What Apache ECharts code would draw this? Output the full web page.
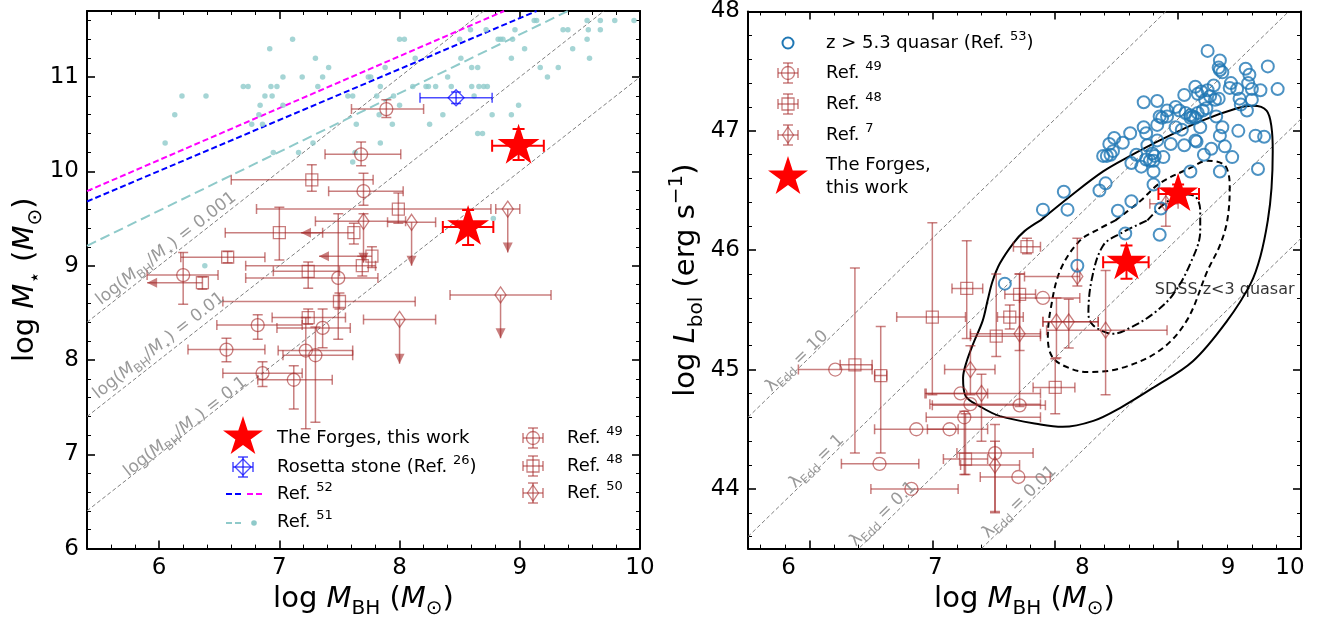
<!DOCTYPE html>
<html>
<head>
<meta charset="utf-8">
<script src="https://cdn.jsdelivr.net/npm/echarts@6/dist/echarts.min.js"></script>
<style>
  html, body { margin: 0; padding: 0; background: #fff; }
  #chart { width: 1338px; height: 624px; }
</style>
</head>
<body>
<div id="chart"></div>
<script>
// ---------------- data: left panel (log M_BH vs log M_star) ----------------
// error-bar rows: [x, y, xLo, xHi, yLo, yHi, limit]  limit: 0 none, 1 upper limit in x (arrow left), 2 upper limit in y (arrow down)
const ref49Mass = [
  [7.89, 10.66, 7.60, 8.20, 10.57, 10.76, 0],
  [7.68, 10.18, 7.38, 8.01, 10.06, 10.31, 0],
  [7.70, 9.79, 7.41, 8.03, 9.64, 9.98, 0],
  [6.20, 8.90, 5.90, 6.49, 8.59, 9.14, 0],
  [7.49, 8.87, 6.72, 7.82, 8.22, 9.55, 0],
  [6.82, 8.37, 6.48, 7.19, 8.22, 8.48, 0],
  [7.36, 8.34, 6.98, 7.59, 8.13, 8.54, 0],
  [6.56, 8.11, 6.24, 6.88, 7.98, 8.23, 0],
  [7.22, 8.10, 6.99, 7.61, 7.27, 8.45, 0],
  [7.30, 8.05, 7.03, 7.61, 7.34, 8.35, 0],
  [6.86, 7.86, 6.53, 7.19, 7.72, 7.98, 0],
  [7.12, 7.79, 6.82, 7.44, 7.48, 7.94, 0]
];
const ref48Mass = [
  [7.27, 9.91, 6.60, 7.78, 9.79, 10.07, 0],
  [7.99, 9.60, 6.81, 8.76, 9.45, 9.77, 0],
  [7.00, 9.35, 6.55, 7.36, 9.06, 9.62, 0],
  [7.62, 9.35, 7.18, 7.62, 9.23, 9.45, 1],
  [6.57, 9.09, 6.18, 6.88, 9.03, 9.15, 0],
  [6.36, 8.82, 5.90, 6.36, 8.75, 8.88, 1],
  [7.77, 9.10, 7.33, 7.77, 8.98, 9.20, 1],
  [7.69, 9.00, 6.72, 7.80, 8.89, 9.10, 0],
  [7.24, 8.94, 6.95, 7.50, 8.76, 9.04, 0],
  [7.50, 8.62, 6.53, 8.13, 8.54, 8.71, 0],
  [7.24, 8.45, 6.94, 7.55, 8.38, 8.54, 0]
];
const ref50Mass = [
  [7.70, 9.47, 7.30, 8.05, 9.03, 9.55, 2],
  [8.10, 9.46, 7.90, 8.30, 9.00, 9.46, 2],
  [8.90, 9.60, 8.80, 9.00, 9.14, 9.60, 2],
  [8.84, 8.69, 8.42, 9.26, 8.23, 8.69, 2],
  [8.00, 8.43, 7.70, 8.30, 7.96, 8.43, 2]
];
const rosettaMass = [[8.47, 10.78, 8.17, 8.77, 10.72, 10.84, 0]];
const forgesMass = [
  [8.99, 10.27, 8.77, 9.20, 10.12, 10.45, 0],
  [8.57, 9.41, 8.36, 8.78, 9.22, 9.59, 0]
];
// Ref. 51 local sample
const ref51Points = [
  [6.05,10.3],[6.13,10.6],[6.19,10.8],[6.39,10.8],[6.70,10.9],[6.74,10.9],[6.77,10.5],[6.83,10.6],
  [6.84,10.7],[6.86,10.5],[6.88,10.8],[6.92,11.3],[6.93,10.9],[6.94,10.8],[6.95,10.2],[6.98,10.9],
  [7.03,11.0],[7.03,10.7],[7.11,11.4],[7.16,10.2],[7.19,11.0],[7.28,10.3],[7.30,11.2],[7.32,10.9],
  [7.36,11.0],[7.41,11.1],[7.57,10.8],[7.61,10.8],[7.61,10.1],[7.63,10.2],[7.64,10.5],[7.74,11.0],
  [7.76,11.0],[7.81,10.8],[7.83,10.6],[7.84,10.3],[7.84,10.9],[7.88,11.1],[7.94,10.5],[7.95,10.8],
  [8.00,11.4],[8.04,11.4],[8.00,10.7],[8.11,10.9],[8.13,11.2],[8.22,10.9],[8.24,10.9],[8.25,10.5],
  [8.30,10.9],[8.36,10.6],[8.40,11.0],[8.43,10.9],[8.50,11.4],[8.51,11.2],[8.59,11.5],[8.60,11.1],
  [8.60,10.9],[8.62,10.8],[8.65,11.1],[8.65,10.4],[8.69,10.4],[8.66,10.9],[8.70,10.9],[8.73,10.9],
  [8.72,11.5],[8.77,10.6],[8.82,11.4],[8.84,11.4],[8.86,11.4],[8.93,10.6],[8.93,11.2],[8.94,11.4],
  [8.96,11.5],[8.99,10.7],[9.04,11.3],[9.12,11.6],[9.14,11.6],[9.17,11.1],[9.23,11.0],[9.32,11.1],
  [9.36,11.5],[9.40,11.5],[9.44,11.3],[9.56,11.6],[9.57,11.5],[9.56,11.4],[9.58,11.2],[9.67,11.6],
  [9.67,11.5],[9.79,11.6],[9.95,11.6],[8.78,9.5],[6.38,9.0]
];
const ref51Line = [[5.4, 9.21], [9.4, 11.7]];
const ref52LineMagenta = [[5.4, 9.79], [8.87, 11.7]];
const ref52LineBlue = [[5.4, 9.68], [9.14, 11.7]];
// constant mass-ratio lines log(M_BH/M_star)
const ratioLine001 = [[5.4, 8.4], [8.7, 11.7]];
const ratioLine01 = [[5.4, 7.4], [9.7, 11.7]];
const ratioLine1 = [[5.4, 6.4], [10.0, 11.0]];
const ratioLabels = [
  { value: [6.06, 9.18], text: '0.001' },
  { value: [6.00, 8.15], text: '0.01' },
  { value: [6.22, 7.29], text: '0.1' }
];

// ---------------- data: right panel (log M_BH vs log L_bol) ----------------
const ref49Lum = [
  [6.21, 45.00, 5.91, 6.51, 45.00, 45.00, 0],
  [7.23, 44.80, 6.95, 7.45, 44.80, 44.80, 0],
  [7.31, 44.71, 6.98, 7.88, 44.71, 44.71, 0],
  [7.71, 44.70, 7.00, 7.92, 44.70, 44.70, 0],
  [7.26, 44.60, 6.95, 7.88, 44.12, 44.65, 0],
  [6.87, 44.50, 6.53, 7.21, 44.50, 44.50, 0],
  [7.14, 44.50, 6.96, 7.45, 44.50, 44.50, 0],
  [7.51, 44.30, 7.20, 7.82, 43.81, 44.54, 0],
  [6.57, 44.21, 6.26, 6.89, 44.21, 44.21, 0],
  [7.70, 44.10, 7.39, 7.96, 44.10, 44.10, 0],
  [6.83, 44.00, 6.50, 7.21, 44.00, 44.00, 0],
  [7.90, 45.60, 7.71, 8.20, 45.60, 45.60, 0]
];
const ref48Lum = [
  [7.00, 45.44, 6.71, 7.27, 44.79, 46.23, 0],
  [7.28, 45.68, 7.16, 7.41, 45.26, 46.08, 0],
  [6.37, 45.04, 6.25, 6.51, 44.30, 45.85, 0],
  [6.58, 44.95, 6.53, 6.63, 44.30, 45.36, 0],
  [7.77, 46.03, 7.66, 7.88, 45.97, 46.10, 0],
  [7.71, 45.63, 7.59, 7.84, 45.16, 45.80, 0],
  [7.63, 45.44, 7.53, 7.74, 45.34, 45.54, 0],
  [7.52, 45.28, 7.31, 7.88, 45.11, 45.80, 0],
  [7.27, 44.25, 7.09, 7.45, 44.12, 44.63, 0],
  [8.00, 44.85, 7.82, 8.16, 44.63, 45.09, 0]
];
const ref7Lum = [
  [7.71, 45.30, 7.31, 7.88, 44.69, 45.80, 0],
  [7.31, 45.00, 7.10, 7.51, 44.79, 45.20, 0],
  [7.40, 44.80, 6.94, 7.88, 44.40, 44.96, 0],
  [7.51, 44.20, 7.23, 7.71, 43.80, 44.40, 0],
  [8.01, 45.40, 7.90, 8.35, 45.10, 45.60, 0],
  [8.11, 45.40, 7.90, 8.35, 45.18, 45.59, 0],
  [8.41, 45.33, 7.93, 8.91, 44.79, 45.83, 0],
  [8.18, 45.78, 7.75, 8.20, 45.70, 46.10, 0],
  [8.90, 46.39, 8.77, 9.00, 46.20, 46.52, 0]
];
const forgesLum = [
  [9.00, 46.47, 8.84, 9.17, 46.40, 46.55, 0],
  [8.58, 45.90, 8.39, 8.76, 45.76, 46.04, 0]
];
// z > 5.3 quasars (Ref. 53)
const quasarPoints = [
  [9.24,47.67],[9.34,47.59],[9.33,47.53],[9.34,47.51],[9.36,47.49],[9.55,47.52],[9.58,47.47],[9.73,47.54],
  [9.43,47.40],[9.42,47.36],[9.48,47.35],[9.57,47.40],[9.60,47.35],[9.67,47.34],[9.81,47.35],[9.14,47.37],
  [9.19,47.33],[9.24,47.34],[9.29,47.38],[9.26,47.29],[9.30,47.26],[9.33,47.27],[9.16,47.31],[9.22,47.26],
  [9.05,47.30],[9.50,47.27],[9.51,47.22],[9.60,47.26],[9.56,47.17],[8.72,47.24],[8.83,47.25],[8.98,47.20],
  [8.91,47.17],[9.01,47.17],[9.06,47.15],[9.10,47.13],[9.12,47.12],[9.16,47.15],[9.20,47.17],[9.23,47.19],
  [9.31,47.12],[9.10,47.11],[9.14,47.11],[8.85,47.12],[8.87,47.11],[8.91,47.12],[8.98,47.03],[9.03,47.01],
  [9.18,47.03],[9.36,47.03],[9.34,46.96],[9.49,47.00],[9.63,46.96],[9.70,46.95],[8.72,47.03],[8.74,46.98],
  [8.83,47.05],[8.61,46.98],[8.83,46.92],[8.94,46.89],[9.05,46.88],[9.14,46.92],[9.15,46.91],[9.27,46.85],
  [9.38,46.87],[9.21,46.80],[9.44,46.78],[9.65,46.68],[9.34,46.66],[9.10,46.66],[8.55,46.90],[8.48,46.94],
  [8.44,46.89],[8.47,46.83],[8.45,46.80],[8.39,46.79],[8.42,46.79],[8.66,46.80],[8.75,46.88],[8.79,46.81],
  [8.81,46.79],[8.74,46.76],[8.77,46.75],[8.88,46.78],[8.80,46.75],[8.70,46.70],[8.80,46.66],[8.62,46.73],
  [8.41,46.56],[8.36,46.50],[8.07,46.49],[8.10,46.34],[7.90,46.34],[8.51,46.33],[8.62,46.41],[8.80,46.55],
  [8.86,46.35],[7.59,45.72],[8.57,46.14],[8.85,46.13],[8.18,45.87]
];
// SDSS z<3 quasar density contours
const sdssOuter = [
  [7.88,46.25],[8.12,46.45],[8.39,46.66],[8.61,46.79],[8.85,46.92],[9.18,47.08],[9.48,47.19],[9.61,47.21],
  [9.72,47.17],[9.76,47.03],[9.77,46.83],[9.76,46.52],[9.73,46.25],[9.67,45.95],[9.59,45.72],[9.40,45.41],
  [9.12,45.07],[8.80,44.85],[8.53,44.68],[8.31,44.57],[8.06,44.52],[7.88,44.54],[7.55,44.61],[7.39,44.69],
  [7.27,44.78],[7.25,44.93],[7.28,45.07],[7.33,45.21],[7.41,45.41],[7.45,45.58],[7.49,45.74],[7.55,45.89],
  [7.66,46.06],[7.75,46.16],[7.88,46.25]
];
const sdssMiddle = [
  [8.49,46.25],[8.69,46.41],[8.85,46.56],[9.10,46.69],[9.24,46.75],[9.37,46.72],[9.41,46.64],[9.42,46.52],
  [9.40,46.25],[9.34,46.04],[9.24,45.83],[9.07,45.41],[8.85,45.16],[8.53,45.01],[8.26,44.98],[8.12,45.01],
  [7.98,45.10],[7.94,45.27],[7.96,45.49],[8.04,45.83],[8.20,46.08],[8.36,46.18],[8.49,46.25]
];
const sdssInner = [
  [8.75,46.25],[8.89,46.39],[9.04,46.47],[9.14,46.45],[9.18,46.33],[9.18,46.16],[9.10,45.89],[8.96,45.63],
  [8.80,45.47],[8.61,45.35],[8.47,45.30],[8.39,45.32],[8.30,45.38],[8.27,45.47],[8.30,45.77],[8.39,46.04],
  [8.53,46.14],[8.75,46.25]
];
const sdssLabelAt = [8.81, 45.67];
// Eddington-ratio lines
const eddLine10 = [[5.5, 44.6], [8.9, 48.0]];
const eddLine1 = [[5.5, 43.6], [9.9, 48.0]];
const eddLine01 = [[5.5, 42.6], [10.0, 47.1]];
const eddLine001 = [[7.4, 43.5], [10.0, 46.1]];
const eddLabels = [
  { value: [5.90, 45.07], text: '10' },
  { value: [6.06, 44.23], text: '1' },
  { value: [6.60, 43.79], text: '0.1' },
  { value: [7.71, 43.89], text: '0.01' }
];

// ---------------- axes ticks ----------------
const leftXTicks = [6, 7, 8, 9, 10];
const leftYTicks = [6, 7, 8, 9, 10, 11];
const rightXTicks = [6, 7, 8, 9, 10];
const rightYTicks = [44, 45, 46, 47, 48];

function minorValues(from, to) {
  const out = [];
  for (let k = Math.round(from * 5); k <= Math.round(to * 5); k++) {
    const v = k / 5;
    if (Math.abs(v - Math.round(v)) > 1e-6) out.push(Math.round(v * 10) / 10);
  }
  return out;
}

const FONT = 'DejaVu Sans';
const BROWN = 'rgba(165,42,42,0.6)';
const QBLUE = '#1f77b4';
const TEAL = '#8fcaca';
const GRAYLINE = '#7f7f7f';

const tickLabelStyle = { fontFamily: FONT, fontSize: 23, color: '#000', margin: 8 };

function axisPair(gridIndex, position, min, max, majors, minors, labelOpts) {
  const base = { type: 'value', gridIndex, position, min, max, splitLine: { show: false }, scale: true };
  const major = Object.assign({}, base, {
    axisLine: { show: true, onZero: false, lineStyle: { color: '#000', width: 2 } },
    axisTick: { show: true, inside: true, length: 8, customValues: majors, lineStyle: { color: '#000', width: 1.6 } },
    axisLabel: labelOpts ? Object.assign({ customValues: majors }, tickLabelStyle, labelOpts) : { show: false }
  });
  const minor = Object.assign({}, base, {
    axisLine: { show: false, onZero: false },
    axisTick: { show: true, inside: true, length: 4, customValues: minors, lineStyle: { color: '#000', width: 1 } },
    axisLabel: { show: false }
  });
  return [major, minor];
}

const titleRich = {
  n: { fontFamily: FONT, fontSize: 29, color: '#000', lineHeight: 40, verticalAlign: 'middle' },
  i: { fontFamily: FONT, fontSize: 29, color: '#000', fontStyle: 'italic', lineHeight: 40, verticalAlign: 'middle' },
  s: { fontFamily: FONT, fontSize: 20, color: '#000', lineHeight: 20, verticalAlign: 'bottom' },
  p: { fontFamily: FONT, fontSize: 20, color: '#000', lineHeight: 20, verticalAlign: 'top' }
};
const xTitle = '{n|log }{i|M}{s|BH}{n| (}{i|M}{s|⊙}{n|)}';

// tick labels on the right-hand x axis sit where the figure prints them
const rightXLabelRich = {
  t6: { padding: [0, 42, 0, 0] },
  t7: { padding: [0, 0, 0, 6] },
  t8: { padding: [0, 0, 0, 54] },
  t9: { padding: [0, 0, 0, 100] },
  t10: { padding: [0, 22, 0, 0] }
};
Object.keys(rightXLabelRich).forEach(k => Object.assign(rightXLabelRich[k], { fontFamily: FONT, fontSize: 23, color: '#000' }));

const lxB = axisPair(0, 'bottom', 5.4, 10, leftXTicks, minorValues(5.4, 10), {});
const lxT = axisPair(0, 'top', 5.4, 10, leftXTicks, minorValues(5.4, 10), null);
const rxB = axisPair(1, 'bottom', 5.5, 10, rightXTicks, minorValues(5.5, 10), {
  formatter: v => '{t' + v + '|' + v + '}', rich: rightXLabelRich
});
const rxT = axisPair(1, 'top', 5.5, 10, rightXTicks, minorValues(5.5, 10), null);
const lyL = axisPair(0, 'left', 6, 11.7, leftYTicks, minorValues(6, 11.7), {});
const lyR = axisPair(0, 'right', 6, 11.7, leftYTicks, minorValues(6, 11.7), null);
const ryL = axisPair(1, 'left', 43.5, 48, rightYTicks, minorValues(43.5, 48), {});
const ryR = axisPair(1, 'right', 43.5, 48, rightYTicks, minorValues(43.5, 48), null);

Object.assign(lxB[0], { name: xTitle, nameLocation: 'middle', nameGap: 30, nameTextStyle: { rich: titleRich } });
Object.assign(rxB[0], { name: xTitle, nameLocation: 'middle', nameGap: 30, nameTextStyle: { rich: titleRich } });
Object.assign(lyL[0], {
  name: '{n|log }{i|M}{s|⋆}{n| (}{i|M}{s|⊙}{n|)}', nameLocation: 'middle', nameGap: 38,
  nameTextStyle: { rich: titleRich }
});
Object.assign(ryL[0], {
  name: '{n|log }{i|L}{s|bol}{n| (erg s}{p|−1}{n|)}', nameLocation: 'middle', nameGap: 38,
  nameTextStyle: { rich: titleRich }
});

const xAxes = [].concat(lxB, lxT, rxB, rxT);   // 0,1 left-bottom | 2,3 left-top | 4,5 right-bottom | 6,7 right-top
const yAxes = [].concat(lyL, lyR, ryL, ryR);   // 0,1 left-left | 2,3 left-right | 4,5 right-left | 6,7 right-right

// ---------------- drawing helpers ----------------
function markerEl(kind, cx, cy, color, lw) {
  const st = { stroke: color, lineWidth: lw, fill: 'none' };
  if (kind === 'circle') return { type: 'circle', shape: { cx, cy, r: 6.5 }, style: st };
  if (kind === 'square') return { type: 'rect', shape: { x: cx - 6, y: cy - 6, width: 12, height: 12 }, style: st };
  if (kind === 'thinDiamond') return { type: 'polygon', shape: { points: [[cx, cy - 8], [cx + 5.5, cy], [cx, cy + 8], [cx - 5.5, cy]] }, style: st };
  if (kind === 'diamond') return { type: 'polygon', shape: { points: [[cx, cy - 8], [cx + 8, cy], [cx, cy + 8], [cx - 8, cy]] }, style: st };
  return null;
}

function starPoints(cx, cy, R) {
  const pts = [];
  for (let k = 0; k < 10; k++) {
    const r = k % 2 ? R * 0.382 : R;
    const a = -Math.PI / 2 + k * Math.PI / 5;
    pts.push([cx + r * Math.cos(a), cy + r * Math.sin(a)]);
  }
  return pts;
}

function errorBarRender(kind, color, lw, cap, starR) {
  return function (params, api) {
    const x = api.value(0), y = api.value(1);
    const xlo = api.value(2), xhi = api.value(3), ylo = api.value(4), yhi = api.value(5);
    const lim = api.value(6);
    const p = api.coord([x, y]);
    const L = api.coord([xlo, y]), R = api.coord([xhi, y]);
    const B = api.coord([x, ylo]), T = api.coord([x, yhi]);
    const st = { stroke: color, lineWidth: lw };
    const ch = [];
    const seg = (x1, y1, x2, y2) => ch.push({ type: 'line', shape: { x1, y1, x2, y2 }, style: st });
    if (Math.abs(R[0] - L[0]) > 0.5) {
      seg(L[0], p[1], R[0], p[1]);
      if (lim !== 1 && Math.abs(L[0] - p[0]) > 0.5) seg(L[0], p[1] - cap, L[0], p[1] + cap);
      if (Math.abs(R[0] - p[0]) > 0.5) seg(R[0], p[1] - cap, R[0], p[1] + cap);
    }
    if (Math.abs(B[1] - T[1]) > 0.5) {
      seg(p[0], T[1], p[0], B[1]);
      if (Math.abs(T[1] - p[1]) > 0.5) seg(p[0] - cap, T[1], p[0] + cap, T[1]);
      if (lim !== 2 && Math.abs(B[1] - p[1]) > 0.5) seg(p[0] - cap, B[1], p[0] + cap, B[1]);
    }
    if (lim === 1) {
      ch.push({ type: 'polygon', shape: { points: [[L[0], p[1]], [L[0] + 10, p[1] - 5], [L[0] + 10, p[1] + 5]] }, style: { fill: color } });
    }
    if (lim === 2) {
      ch.push({ type: 'polygon', shape: { points: [[p[0], B[1]], [p[0] - 5, B[1] - 10], [p[0] + 5, B[1] - 10]] }, style: { fill: color } });
    }
    if (kind === 'star') {
      ch.unshift({ type: 'polygon', shape: { points: starPoints(p[0], p[1], starR) }, style: { fill: '#ff0000' } });
    } else {
      ch.push(markerEl(kind, p[0], p[1], color, 1.3));
    }
    return { type: 'group', children: ch };
  };
}

function errSeries(name, data, kind, color, xi, yi, opts) {
  const o = opts || {};
  return {
    name, type: 'custom', xAxisIndex: xi, yAxisIndex: yi, clip: true, z: o.z || 3,
    renderItem: errorBarRender(kind, color, o.lw || 1.5, o.cap || 5, o.starR || 22),
    data
  };
}

function lineSeries(data, color, width, dash, xi, yi, z) {
  return {
    type: 'line', xAxisIndex: xi, yAxisIndex: yi, data, symbol: 'none', silent: true, clip: true, z: z || 2,
    lineStyle: { color, width, type: dash }
  };
}

function contourSeries(data, dash) {
  return {
    type: 'line', xAxisIndex: 4, yAxisIndex: 4, data, symbol: 'none', smooth: 0.35, silent: true, clip: true, z: 2,
    lineStyle: { color: '#000', width: 2, type: dash }
  };
}

const smallRich = (size, color) => ({
  n: { fontFamily: FONT, fontSize: size, color, lineHeight: size + 6, verticalAlign: 'middle' },
  i: { fontFamily: FONT, fontSize: size, color, fontStyle: 'italic', lineHeight: size + 6, verticalAlign: 'middle' },
  s: { fontFamily: FONT, fontSize: Math.round(size * 0.7), color, lineHeight: Math.round(size * 0.7), verticalAlign: 'bottom' }
});

function textSeries(items, fmt, rotate, xi, yi) {
  return {
    type: 'scatter', xAxisIndex: xi, yAxisIndex: yi, symbolSize: 0.1, silent: true, z: 4,
    itemStyle: { color: 'transparent' },
    data: items.map(d => ({ value: d.value, text: d.text })),
    label: {
      show: true, position: 'inside', rotate, formatter: p => fmt(p.data.text),
      rich: smallRich(17, '#808080')
    }
  };
}

// ---------------- series ----------------
const series = [
  // left panel
  lineSeries(ratioLine001, GRAYLINE, 1, [4, 2.5], 0, 0),
  lineSeries(ratioLine01, GRAYLINE, 1, [4, 2.5], 0, 0),
  lineSeries(ratioLine1, GRAYLINE, 1, [4, 2.5], 0, 0),
  lineSeries(ref51Line, TEAL, 2, [10, 5], 0, 0),
  lineSeries(ref52LineMagenta, '#ff00ff', 2, [6, 3], 0, 0),
  lineSeries(ref52LineBlue, '#0000ff', 2, [6, 3], 0, 0),
  {
    type: 'scatter', xAxisIndex: 0, yAxisIndex: 0, data: ref51Points, symbol: 'circle', symbolSize: 5.5,
    itemStyle: { color: TEAL }, z: 2, silent: true
  },
  textSeries(ratioLabels, t => '{n|log(}{i|M}{s|BH}{n|/}{i|M}{s|⋆}{n|) = ' + t + '}', 38, 0, 0),
  errSeries('Ref. 49', ref49Mass, 'circle', BROWN, 0, 0),
  errSeries('Ref. 48', ref48Mass, 'square', BROWN, 0, 0),
  errSeries('Ref. 50', ref50Mass, 'thinDiamond', BROWN, 0, 0),
  errSeries('Rosetta stone', rosettaMass, 'diamond', 'rgba(0,0,255,0.7)', 0, 0, { z: 5 }),
  errSeries('The Forges', forgesMass, 'star', '#ff0000', 0, 0, { lw: 2, cap: 6, starR: 22, z: 6 }),

  // right panel
  lineSeries(eddLine10, GRAYLINE, 1, [4, 2.5], 4, 4),
  lineSeries(eddLine1, GRAYLINE, 1, [4, 2.5], 4, 4),
  lineSeries(eddLine01, GRAYLINE, 1, [4, 2.5], 4, 4),
  lineSeries(eddLine001, GRAYLINE, 1, [4, 2.5], 4, 4),
  textSeries(eddLabels, t => '{n|λ}{s|Edd}{n| = ' + t + '}', 44, 4, 4),
  contourSeries(sdssOuter, 'solid'),
  contourSeries(sdssMiddle, [6, 4]),
  contourSeries(sdssInner, [8, 3, 2, 3]),
  {
    type: 'scatter', xAxisIndex: 4, yAxisIndex: 4, symbolSize: 0.1, silent: true, z: 4,
    itemStyle: { color: 'transparent' },
    data: [sdssLabelAt],
    label: { show: true, position: 'right', distance: 0, formatter: 'SDSS z<3 quasar', fontFamily: FONT, fontSize: 16, color: '#000' }
  },
  errSeries('Ref. 49', ref49Lum, 'circle', BROWN, 4, 4),
  errSeries('Ref. 48', ref48Lum, 'square', BROWN, 4, 4),
  errSeries('Ref. 7', ref7Lum, 'thinDiamond', BROWN, 4, 4),
  {
    type: 'scatter', xAxisIndex: 4, yAxisIndex: 4, data: quasarPoints, symbol: 'circle', symbolSize: 12,
    itemStyle: { color: 'transparent', borderColor: QBLUE, borderWidth: 2 }, z: 5, silent: true
  },
  errSeries('The Forges', forgesLum, 'star', '#ff0000', 4, 4, { lw: 2, cap: 6, starR: 21, z: 6 })
];

// ---------------- legends (drawn as graphic elements) ----------------
function legendErrIcon(kind, cx, cy, color) {
  const st = { stroke: color, lineWidth: 1.5 };
  const els = [
    { type: 'line', shape: { x1: cx - 10, y1: cy, x2: cx + 10, y2: cy }, style: st },
    { type: 'line', shape: { x1: cx - 10, y1: cy - 5, x2: cx - 10, y2: cy + 5 }, style: st },
    { type: 'line', shape: { x1: cx + 10, y1: cy - 5, x2: cx + 10, y2: cy + 5 }, style: st },
    { type: 'line', shape: { x1: cx, y1: cy - 10, x2: cx, y2: cy + 10 }, style: st },
    { type: 'line', shape: { x1: cx - 5, y1: cy - 10, x2: cx + 5, y2: cy - 10 }, style: st },
    { type: 'line', shape: { x1: cx - 5, y1: cy + 10, x2: cx + 5, y2: cy + 10 }, style: st }
  ];
  els.push(markerEl(kind, cx, cy, color, 1.3));
  return els;
}
const legRich = {
  n: { fontFamily: FONT, fontSize: 18, color: '#000', lineHeight: 26, verticalAlign: 'middle' },
  p: { fontFamily: FONT, fontSize: 13, color: '#000', lineHeight: 13, verticalAlign: 'top' }
};
function legendText(x, y, text) {
  return { type: 'text', x, y, style: { text, rich: legRich, align: 'left', verticalAlign: 'middle', textAlign: 'left', textVerticalAlign: 'middle' } };
}

const graphics = [].concat(
  // left panel legend, first column
  [{ type: 'polygon', shape: { points: starPoints(243, 437, 21) }, style: { fill: '#ff0000' } }],
  legendText(277, 438, '{n|The Forges, this work}'),
  legendErrIcon('diamond', 243, 467, 'rgba(0,0,255,0.7)'),
  legendText(277, 467, '{n|Rosetta stone (Ref. }{p|26}{n|)}'),
  [
    { type: 'line', shape: { x1: 226, y1: 494, x2: 241, y2: 494 }, style: { stroke: '#0000ff', lineWidth: 2, lineDash: [6, 3] } },
    { type: 'line', shape: { x1: 247, y1: 494, x2: 262, y2: 494 }, style: { stroke: '#ff00ff', lineWidth: 2, lineDash: [6, 3] } }
  ],
  legendText(277, 494, '{n|Ref. }{p|52}'),
  [
    { type: 'line', shape: { x1: 226, y1: 523, x2: 241, y2: 523 }, style: { stroke: TEAL, lineWidth: 2, lineDash: [6, 3] } },
    { type: 'circle', shape: { cx: 254, cy: 523, r: 2.8 }, style: { fill: TEAL } }
  ],
  legendText(277, 522, '{n|Ref. }{p|51}'),
  // left panel legend, second column
  legendErrIcon('circle', 533, 438, BROWN),
  legendText(567, 438, '{n|Ref. }{p|49}'),
  legendErrIcon('square', 533, 466, BROWN),
  legendText(567, 466, '{n|Ref. }{p|48}'),
  legendErrIcon('thinDiamond', 533, 493, BROWN),
  legendText(567, 493, '{n|Ref. }{p|50}'),
  // right panel legend
  [{ type: 'circle', shape: { cx: 788, cy: 43, r: 5.5 }, style: { stroke: QBLUE, lineWidth: 2, fill: 'none' } }],
  legendText(826, 43, '{n|z > 5.3 quasar (Ref. }{p|53}{n|)}'),
  legendErrIcon('circle', 788, 73, BROWN),
  legendText(826, 73, '{n|Ref. }{p|49}'),
  legendErrIcon('square', 788, 104, BROWN),
  legendText(826, 104, '{n|Ref. }{p|48}'),
  legendErrIcon('thinDiamond', 788, 135, BROWN),
  legendText(826, 135, '{n|Ref. }{p|7}'),
  [{ type: 'polygon', shape: { points: starPoints(788, 177, 21) }, style: { fill: '#ff0000' } }],
  legendText(826, 165, '{n|The Forges,}'),
  legendText(826, 188, '{n|this work}')
);

const chart = echarts.init(document.getElementById('chart'), null, { renderer: 'canvas' });
chart.setOption({
  animation: false,
  backgroundColor: '#fff',
  grid: [
    { left: 87, right: 698, top: 11, bottom: 75 },
    { left: 748, right: 37, top: 11, bottom: 75 }
  ],
  xAxis: xAxes,
  yAxis: yAxes,
  series,
  graphic: graphics
});
</script>
</body>
</html>
